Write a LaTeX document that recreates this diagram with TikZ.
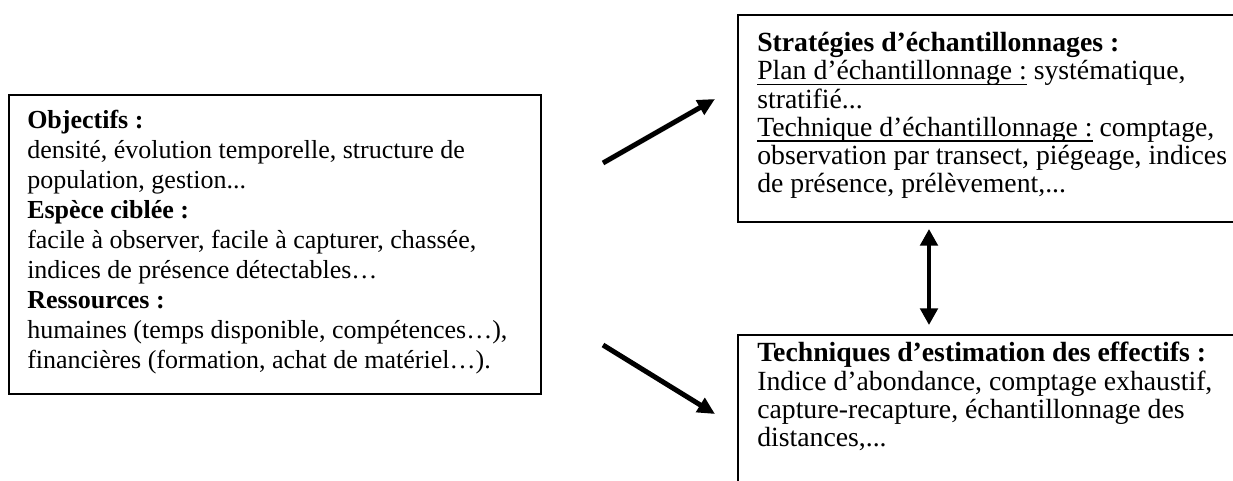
\documentclass[tikz,border=0pt]{standalone}
\usepackage{fontspec}
\setmainfont{Liberation Serif}
\usetikzlibrary{arrows.meta}
\newcommand\ulx[1]{\setbox0\hbox{#1}\rlap{\rule[-4pt]{\wd0}{1pt}}\box0\relax}
\begin{document}
\begin{tikzpicture}[x=0.75pt,y=-0.75pt,
  box/.style={draw, line width=1.5pt, inner sep=0pt, anchor=north west},
  txtL/.style={anchor=north west, inner sep=0pt, align=left, font=\fontsize{19.5}{22.5}\selectfont},
  txtR/.style={anchor=north west, inner sep=0pt, align=left, font=\fontsize{20.8}{21.2}\selectfont},
  bigarrow/.style={-{Triangle[length=13pt,width=12pt]}, line width=3.75pt},
  dblarrow/.style={{Triangle[length=12.5pt,width=13pt]}-{Triangle[length=12.5pt,width=13pt]}, line width=3pt}]
\useasboundingbox (0,0) rectangle (1233,480);
\clip (0,0) rectangle (1233,480);
\fill[white] (0,0) rectangle (1233,480);
% boxes
\node[box, minimum width=399pt, minimum height=224.25pt] (left) at (8,94) {};
\node[box, minimum width=384.75pt, minimum height=155.25pt] (strat) at (737,14) {};
\node[box, minimum width=384.75pt, minimum height=124.5pt] (estim) at (737,334) {};
% texts
\node[txtL] (lefttxt) at (27,110) {\textbf{Objectifs :}\\
densité, évolution temporelle, structure de\\
population, gestion...\\
\textbf{Espèce ciblée :}\\
facile à observer, facile à capturer, chassée,\\
indices de présence détectables…\\
\textbf{Ressources :}\\
humaines (temps disponible, compétences…),\\
financières (formation, achat de matériel…).};
\node[txtR] (strattxt) at (757,32) {\textbf{Stratégies d’échantillonnages :}\\
\ulx{Plan d’échantillonnage :} systématique,\\
stratifié...\\
\ulx{Technique d’échantillonnage :} comptage,\\
observation par transect, piégeage, indices\\
de présence, prélèvement,...};
\node[txtR] (estimtxt) at (757,342) {\textbf{Techniques d’estimation des effectifs :}\\
Indice d’abondance, comptage exhaustif,\\
capture-recapture, échantillonnage des\\
distances,...};
% arrows
\coordinate (a1s) at (603,163);
\coordinate (a1e) at (715,99);
\coordinate (a2s) at (603,345);
\coordinate (a2e) at (715,414);
\coordinate (a3s) at (929,229);
\coordinate (a3e) at (929,325);
\draw[bigarrow] (a1s) -- (a1e);
\draw[bigarrow] (a2s) -- (a2e);
\draw[dblarrow] (a3s) -- (a3e);
\end{tikzpicture}
\end{document}
